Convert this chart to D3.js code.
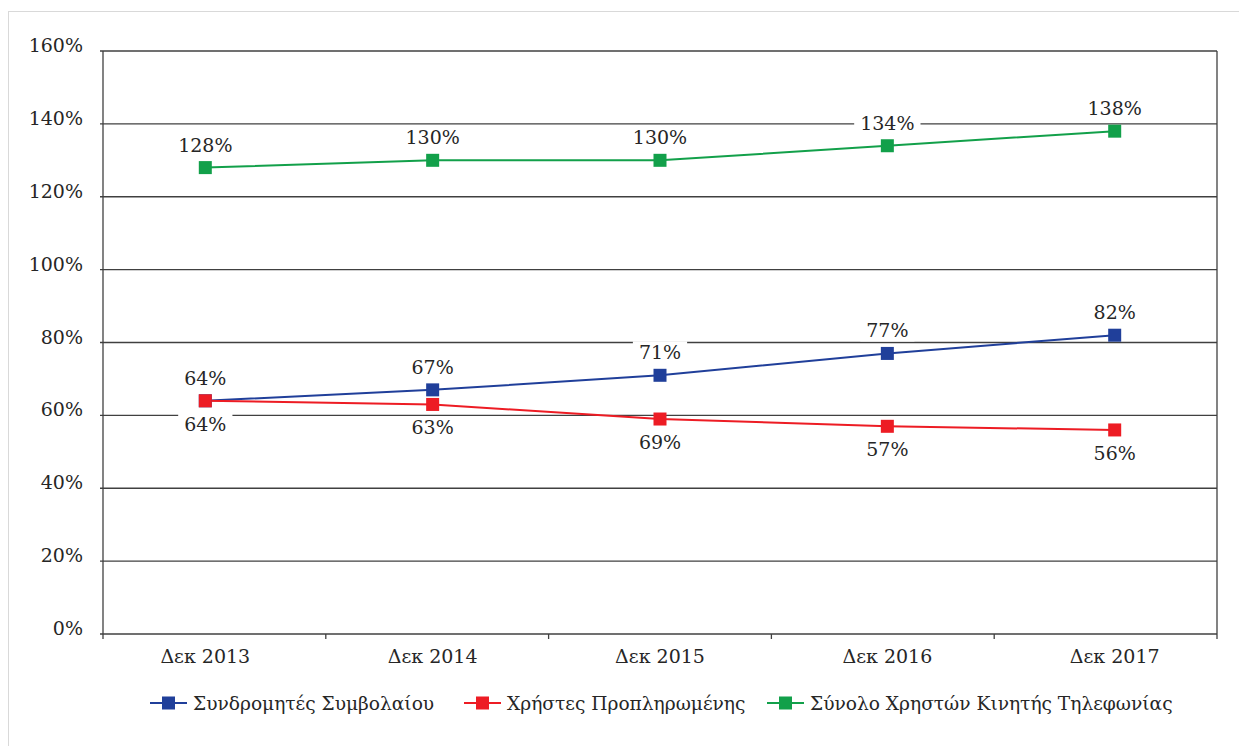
<!DOCTYPE html>
<html><head><meta charset="utf-8">
<script src="https://cdn.jsdelivr.net/npm/d3@7"></script>
<style>html,body{margin:0;padding:0;background:#fff;}svg{display:block;}</style>
</head><body>
<svg id="chart" width="1239" height="746"></svg>
<script>
const categories = ["Δεκ 2013", "Δεκ 2014", "Δεκ 2015", "Δεκ 2016", "Δεκ 2017"];
const contractValues = [64, 67, 71, 77, 82];
const contractLabels = ["64%", "67%", "71%", "77%", "82%"];
const prepaidValues = [64, 63, 59, 57, 56];
const prepaidLabels = ["64%", "63%", "69%", "57%", "56%"];
const totalValues = [128, 130, 130, 134, 138];
const totalLabels = ["128%", "130%", "130%", "134%", "138%"];
const yTicks = [0, 20, 40, 60, 80, 100, 120, 140, 160];
const seriesNames = ["Συνδρομητές Συμβολαίου", "Χρήστες Προπληρωμένης", "Σύνολο Χρηστών Κινητής Τηλεφωνίας"];

const FONT = "'DejaVu Serif', serif";
const TXT = "#262626";
const svg = d3.select("#chart");
const L = 103, R = 1217, T = 51, B = 634;

svg.append("rect").attr("x", 8.5).attr("y", 11.5).attr("width", 1240).attr("height", 750)
  .attr("fill", "none").attr("stroke", "#d9d9d9");

const x = d3.scalePoint().domain(categories).range([L, R]).padding(0.45);
const y = d3.scaleLinear().domain([0, 160]).range([B, T]);

// gridlines
svg.append("g").selectAll("line").data(yTicks).join("line")
  .attr("x1", L - 3).attr("x2", R).attr("y1", d => y(d)).attr("y2", d => y(d))
  .attr("stroke", "#404040").attr("stroke-width", 1.3);
// left axis & right border
svg.append("line").attr("x1", L).attr("x2", L).attr("y1", T).attr("y2", B + 5).attr("stroke", "#404040").attr("stroke-width", 1.3);
svg.append("line").attr("x1", R).attr("x2", R).attr("y1", T).attr("y2", B + 5).attr("stroke", "#404040").attr("stroke-width", 1.3);
// category boundary ticks
const band = (R - L) / categories.length;
svg.append("g").selectAll("line").data(d3.range(1, categories.length)).join("line")
  .attr("x1", d => L + d * band).attr("x2", d => L + d * band).attr("y1", B).attr("y2", B + 5)
  .attr("stroke", "#404040").attr("stroke-width", 1.3);

// y labels
svg.append("g").selectAll("text").data(yTicks).join("text")
  .attr("x", L - 20).attr("y", d => y(d) - 6).attr("text-anchor", "end").attr("dominant-baseline", "central")
  .attr("font-family", FONT).attr("font-size", 19).attr("fill", TXT).text(d => d + "%");
// x labels
svg.append("g").selectAll("text").data(categories).join("text")
  .attr("x", d => x(d)).attr("y", 656).attr("text-anchor", "middle").attr("dominant-baseline", "central")
  .attr("font-family", FONT).attr("font-size", 19).attr("fill", TXT).text(d => d);

const series = [
  {name: seriesNames[0], values: contractValues, labels: contractLabels, color: "#203f9a", dy: -23},
  {name: seriesNames[1], values: prepaidValues, labels: prepaidLabels, color: "#ed1c24", dy: 23},
  {name: seriesNames[2], values: totalValues, labels: totalLabels, color: "#12a04a", dy: -23}
];
const line = d3.line().x((d, i) => x(categories[i])).y(d => y(d));

series.forEach(s => {
  svg.append("path").attr("d", line(s.values)).attr("fill", "none").attr("stroke", s.color).attr("stroke-width", 2);
});
// labels with white background
const labelG = svg.append("g");
series.forEach(s => {
  s.values.forEach((v, i) => {
    const g = labelG.append("g");
    const t = g.append("text").attr("x", x(categories[i])).attr("y", y(v) + s.dy)
      .attr("text-anchor", "middle").attr("dominant-baseline", "central")
      .attr("font-family", FONT).attr("font-size", 19).attr("fill", TXT).text(s.labels[i]);
    const bb = t.node().getBBox();
    g.insert("rect", "text").attr("x", bb.x - 6).attr("y", bb.y).attr("width", bb.width + 12).attr("height", bb.height).attr("fill", "#fff");
  });
});
series.forEach(s => {
  svg.append("g").selectAll("rect").data(s.values).join("rect")
    .attr("x", (d, i) => x(categories[i]) - 6.5).attr("y", d => y(d) - 6.5)
    .attr("width", 13).attr("height", 13).attr("fill", s.color);
});

// legend
const legendX = [150, 464, 767];
series.forEach((s, i) => {
  const g = svg.append("g").attr("transform", `translate(${legendX[i]},703)`);
  g.append("line").attr("x1", 0).attr("x2", 37).attr("stroke", s.color).attr("stroke-width", 2);
  g.append("rect").attr("x", 12).attr("y", -6.5).attr("width", 13).attr("height", 13).attr("fill", s.color);
  g.append("text").attr("x", 43).attr("y", 0).attr("dominant-baseline", "central")
    .attr("font-family", FONT).attr("font-size", 18.6).attr("fill", TXT).text(s.name);
});
</script>
</body></html>
